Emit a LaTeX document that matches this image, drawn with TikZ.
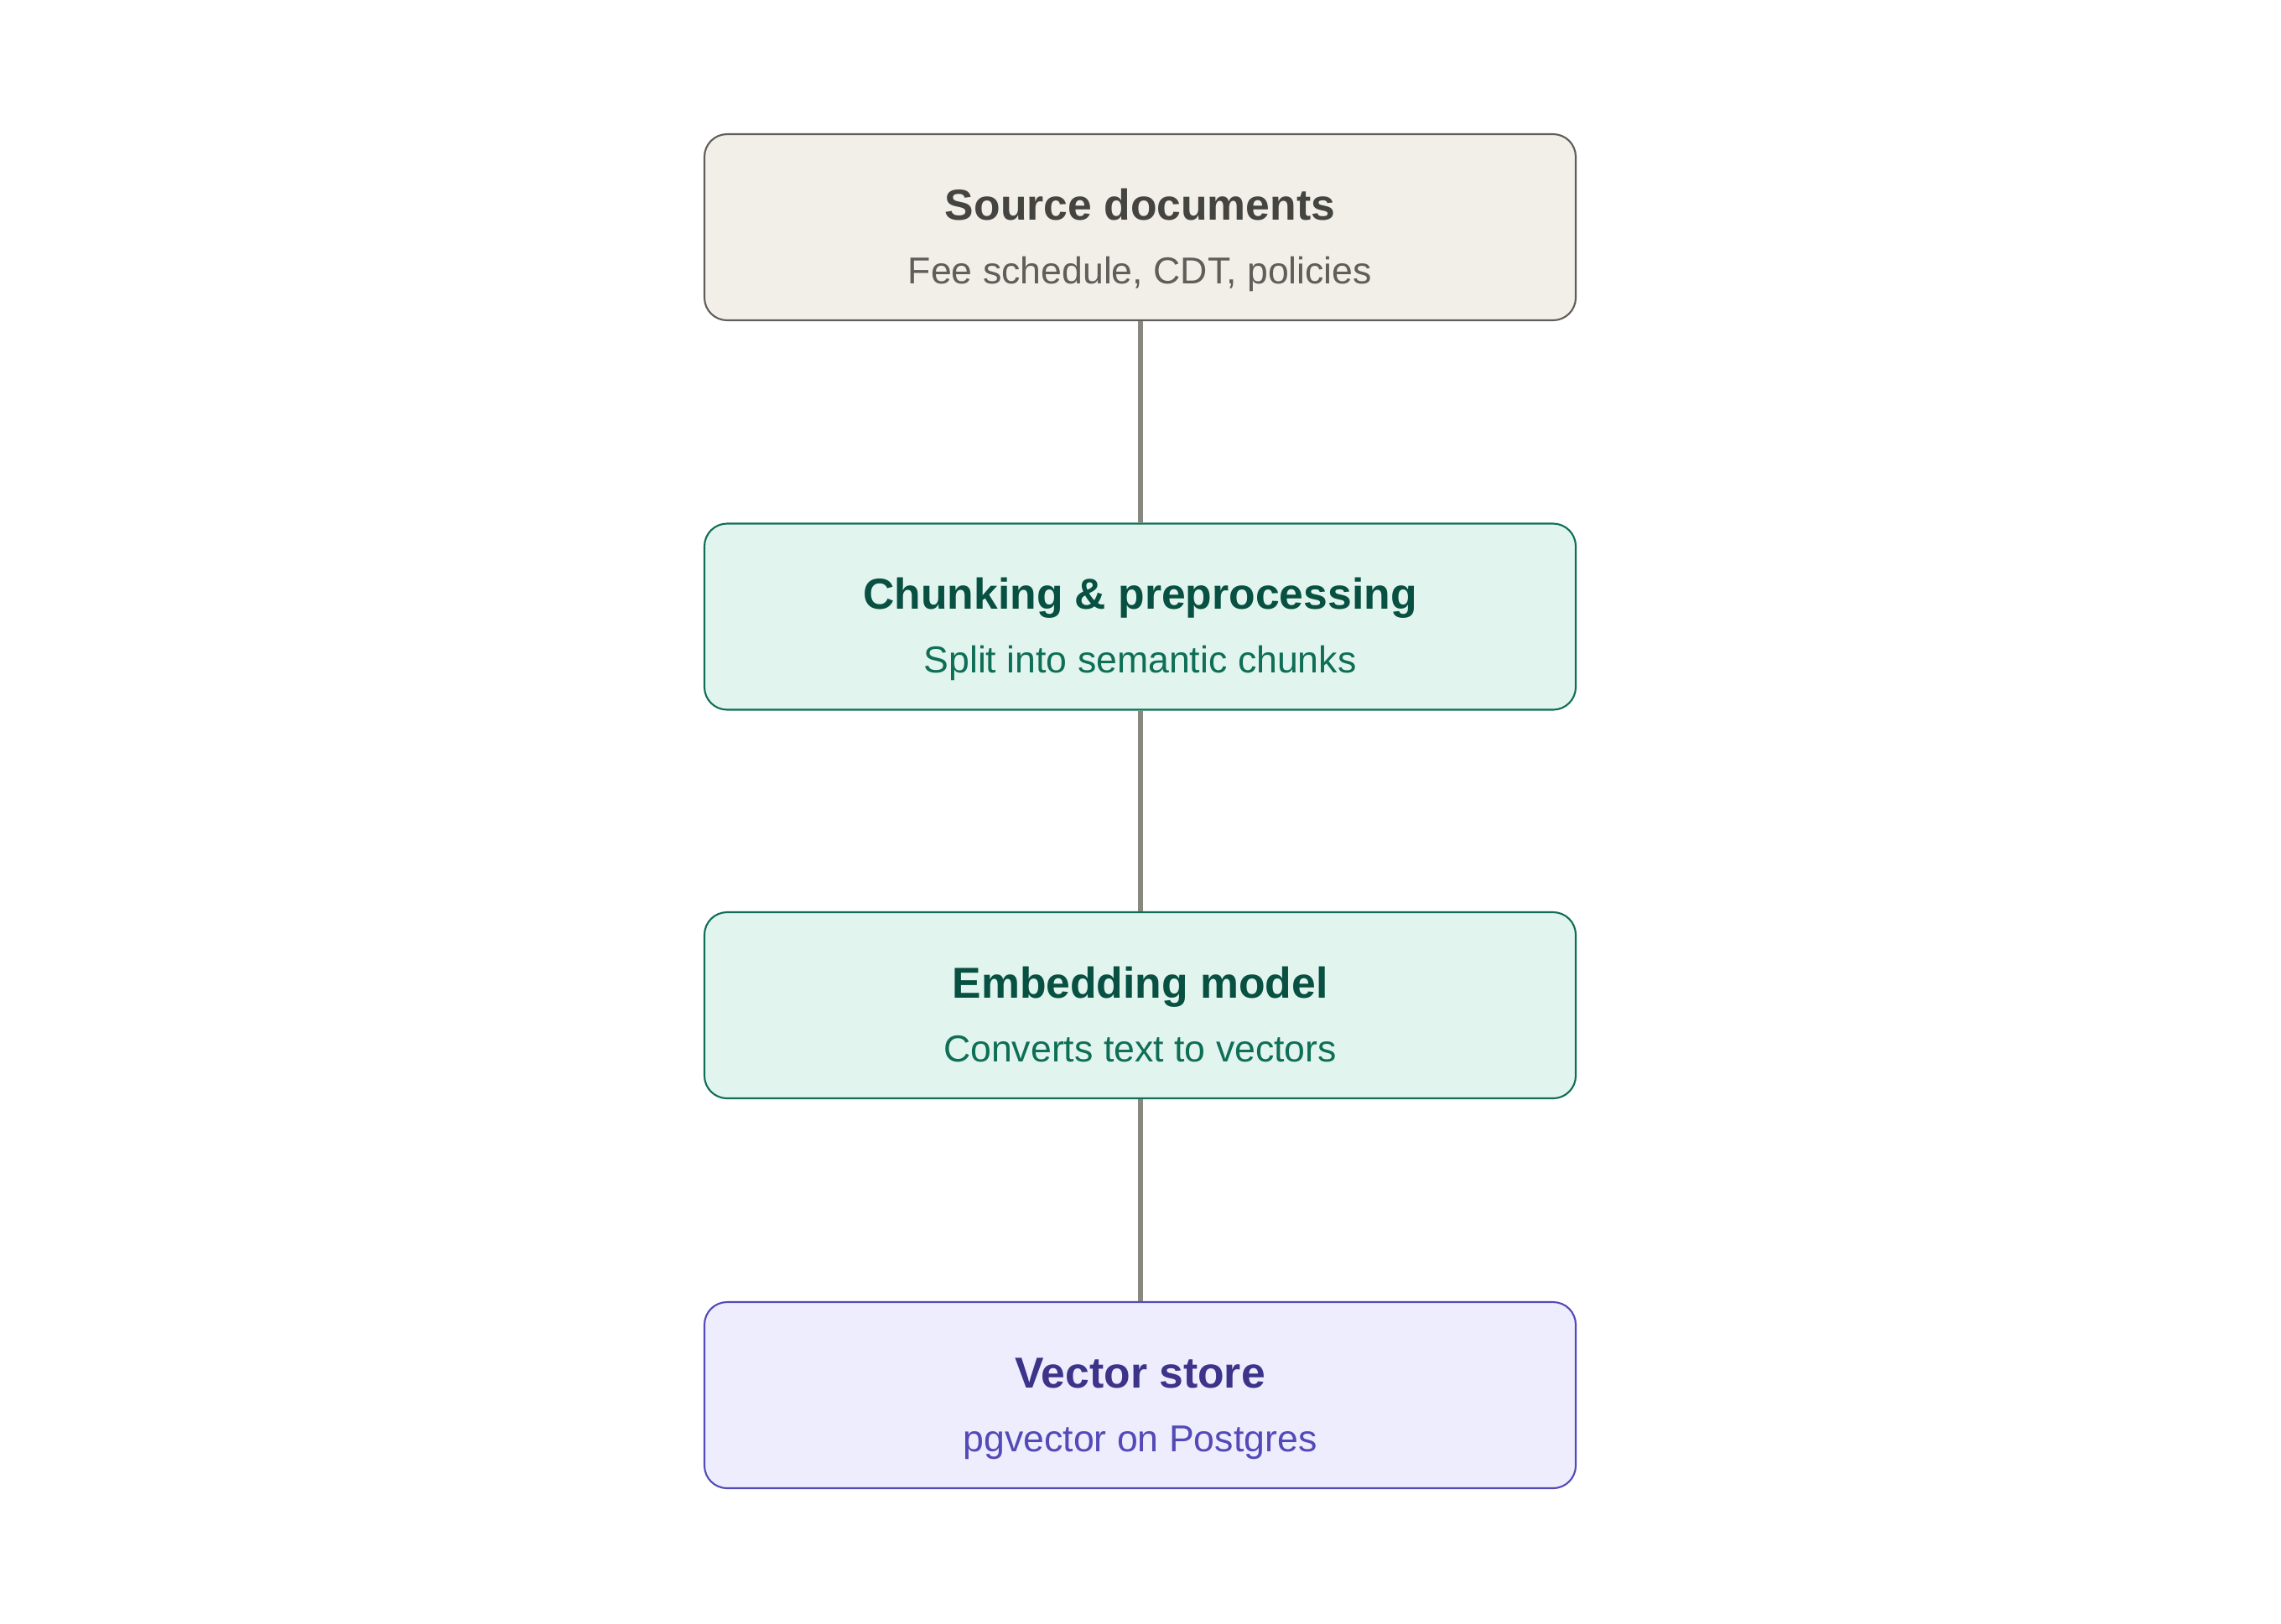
\documentclass[tikz,border=0pt]{standalone}
\usepackage{fontspec}
\setmainfont{Liberation Sans}
\usetikzlibrary{positioning}
\definecolor{grayfill}{HTML}{F1EFE8}
\definecolor{grayline}{HTML}{5F5E5A}
\definecolor{graytitle}{HTML}{444441}
\definecolor{greenfill}{HTML}{E1F5EE}
\definecolor{greenline}{HTML}{0F6E56}
\definecolor{greentitle}{HTML}{085041}
\definecolor{purplefill}{HTML}{EEEDFE}
\definecolor{purpleline}{HTML}{534AB7}
\definecolor{purpletitle}{HTML}{3C3489}
\definecolor{linkgray}{HTML}{888780}

\begin{document}
\begin{tikzpicture}
\tikzset{box/.style = {shape=rectangle,rounded corners=0.27cm,line width=0.6pt,minimum width=10.39cm,minimum height=2.22cm}}
\tikzset{title/.style = {anchor=base,font=\fontsize{14.7}{18}\selectfont\bfseries}}
\tikzset{sub/.style = {anchor=base,font=\fontsize{12.7}{15}\selectfont}}
\tikzset{link/.style = {draw=linkgray,line width=1.7pt}}
\useasboundingbox (0,0) rectangle (27.2,-19.36);
\node[box, draw=grayline, fill=grayfill](src) at (13.595, -2.71) {};
\node[box, draw=greenline, fill=greenfill](chunk) at (13.595, -7.355) {};
\node[box, draw=greenline, fill=greenfill](embed) at (13.595, -11.99) {};
\node[box, draw=purpleline, fill=purplefill](store) at (13.595, -16.64) {};
\node[title, text=graytitle](srct) at ([yshift=0.09cm]src.center) {Source documents};
\node[sub, text=grayline](srcs) at ([yshift=-0.67cm]src.center) {Fee schedule, CDT, policies};
\node[title, text=greentitle](chunkt) at ([yshift=0.09cm]chunk.center) {Chunking \& preprocessing};
\node[sub, text=greenline](chunks) at ([yshift=-0.67cm]chunk.center) {Split into semantic chunks};
\node[title, text=greentitle](embedt) at ([yshift=0.09cm]embed.center) {Embedding model};
\node[sub, text=greenline](embeds) at ([yshift=-0.67cm]embed.center) {Converts text to vectors};
\node[title, text=purpletitle](storet) at ([yshift=0.09cm]store.center) {Vector store};
\node[sub, text=purpleline](stores) at ([yshift=-0.67cm]store.center) {pgvector on Postgres};
\draw[link] (src) -- (chunk);
\draw[link] (chunk) -- (embed);
\draw[link] (embed) -- (store);
\end{tikzpicture}
\end{document}
